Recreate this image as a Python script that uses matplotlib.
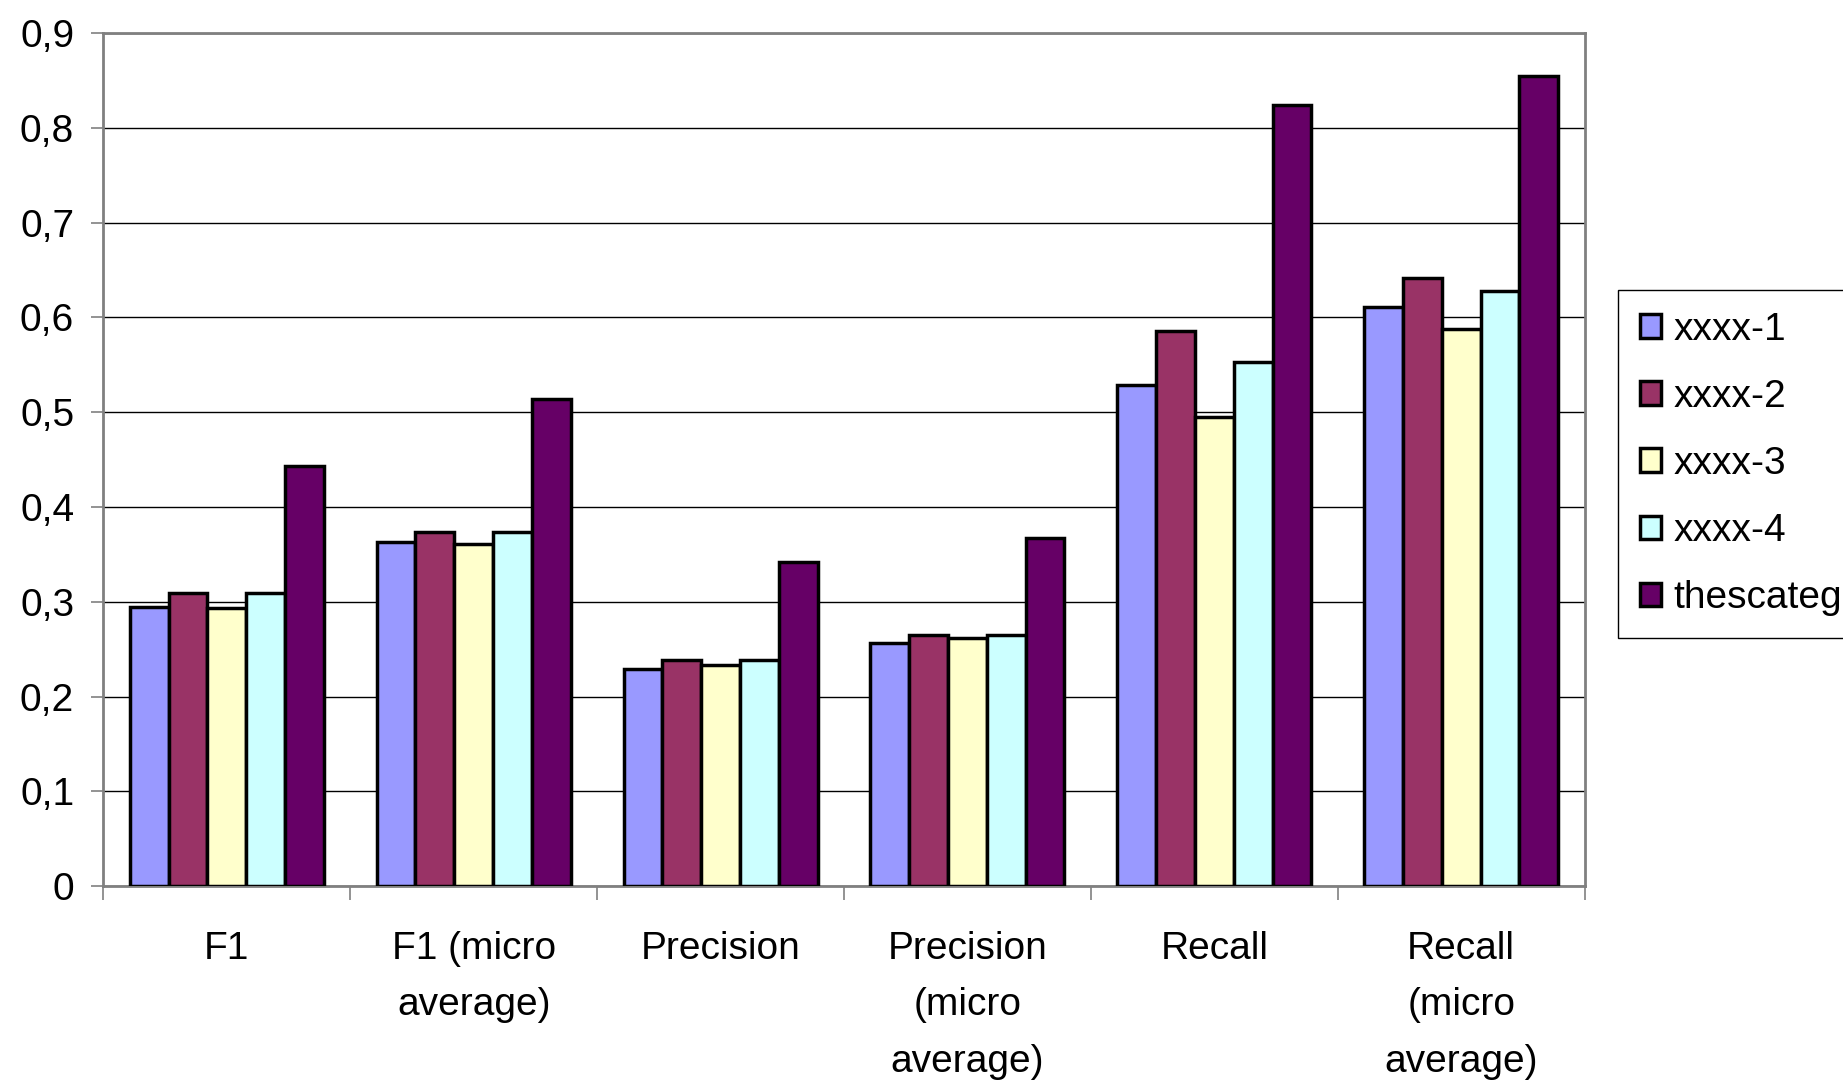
import matplotlib
matplotlib.use("Agg")
import matplotlib.pyplot as plt
import numpy as np
from matplotlib.ticker import FuncFormatter, FixedLocator

categories = ["F1", "F1 (micro\naverage)", "Precision", "Precision\n(micro\naverage)",
              "Recall", "Recall\n(micro\naverage)"]
series_names = ["xxxx-1", "xxxx-2", "xxxx-3", "xxxx-4", "thescateg"]
xxxx1 = [0.295, 0.363, 0.229, 0.257, 0.529, 0.611]
xxxx2 = [0.309, 0.374, 0.239, 0.265, 0.586, 0.642]
xxxx3 = [0.293, 0.361, 0.233, 0.262, 0.495, 0.588]
xxxx4 = [0.309, 0.374, 0.239, 0.265, 0.553, 0.628]
thescat = [0.443, 0.514, 0.342, 0.367, 0.824, 0.855]
series = [xxxx1, xxxx2, xxxx3, xxxx4, thescat]
colors = ["#9999FF", "#993366", "#FFFFCC", "#CCFFFF", "#660066"]

plt.rcParams['font.family'] = ['Liberation Sans', 'DejaVu Sans']
FS = 28

fig = plt.figure(figsize=(18.43, 10.80), dpi=100)
ax = fig.add_axes([0.0561, 0.1794, 0.8037, 0.7901])

n = len(series)
x = np.arange(len(categories))
group = 0.786
bw = group / n
for i, (vals, c, name) in enumerate(zip(series, colors, series_names)):
    ax.bar(x - group / 2 + bw * (i + 0.5), vals, width=bw, color=c,
           edgecolor="black", linewidth=2.5, label=name, zorder=3)

ax.set_xlim(-0.5, len(categories) - 0.5)
ax.set_ylim(0, 0.9)
ax.set_yticks(np.arange(0, 0.91, 0.1))
ax.yaxis.set_major_formatter(FuncFormatter(
    lambda v, p: "0" if abs(v) < 1e-9 else f"{v:.1f}".replace(".", ",")))
ax.grid(axis="y", color="black", linewidth=1.0, zorder=0)
ax.set_axisbelow(True)

ax.set_xticks(x)
ax.set_xticklabels(categories, fontsize=FS, linespacing=1.74, va="top")
ax.xaxis.set_minor_locator(FixedLocator(np.arange(-0.5, len(categories), 1.0)))
ax.tick_params(axis="x", which="major", length=0, pad=32)
ax.tick_params(axis="x", which="minor", length=10, width=1.2, color="#808080")
ax.tick_params(axis="y", labelsize=FS, length=9, width=1.2, color="#808080", pad=12)

for s in ax.spines.values():
    s.set_color("#808080")
    s.set_linewidth(2.0)

leg = fig.legend(loc="upper left", bbox_to_anchor=(0.878, 0.7312), fontsize=FS,
                 frameon=True, fancybox=False, edgecolor="black", framealpha=1,
                 handlelength=0.55, handleheight=0.55, handletextpad=0.33,
                 labelspacing=0.80, borderpad=0.55, borderaxespad=0)
leg.get_frame().set_linewidth(1.0)
for h in leg.legend_handles:
    h.set_linewidth(2.5)

fig.savefig("out.png", dpi=100)
